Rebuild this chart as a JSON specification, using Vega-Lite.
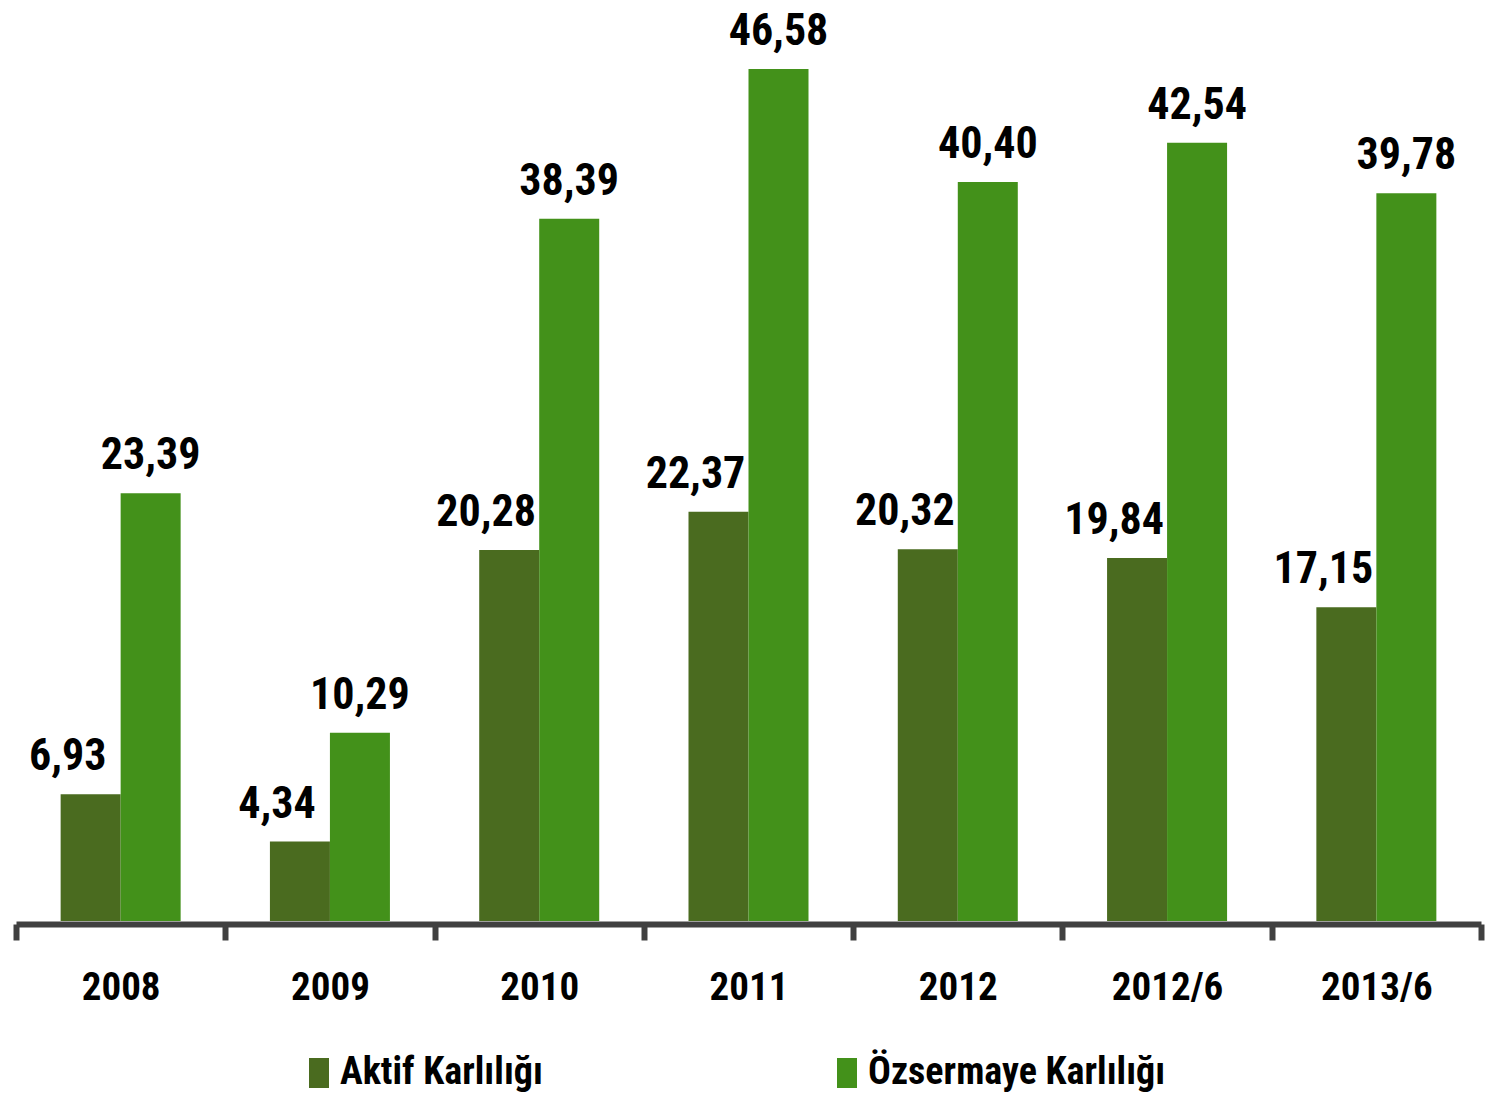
{
  "$schema": "https://vega.github.io/schema/vega-lite/v6.json",
  "autosize": {"type": "none"},
  "padding": {"left": 16, "top": 0, "right": 10, "bottom": 179},
  "width": 1465,
  "height": 921,
  "background": "white",
  "config": {"view": {"stroke": null}, "font": "Roboto Condensed", "locale": {"number": {"decimal": ",", "thousands": ".", "grouping": [3], "currency": ["", ""]}}},
  "data": {"values": [
    {"year": "2008", "series": "Aktif Karlılığı", "value": 6.93},
    {"year": "2008", "series": "Özsermaye Karlılığı", "value": 23.39},
    {"year": "2009", "series": "Aktif Karlılığı", "value": 4.34},
    {"year": "2009", "series": "Özsermaye Karlılığı", "value": 10.29},
    {"year": "2010", "series": "Aktif Karlılığı", "value": 20.28},
    {"year": "2010", "series": "Özsermaye Karlılığı", "value": 38.39},
    {"year": "2011", "series": "Aktif Karlılığı", "value": 22.37},
    {"year": "2011", "series": "Özsermaye Karlılığı", "value": 46.58},
    {"year": "2012", "series": "Aktif Karlılığı", "value": 20.32},
    {"year": "2012", "series": "Özsermaye Karlılığı", "value": 40.40},
    {"year": "2012/6", "series": "Aktif Karlılığı", "value": 19.84},
    {"year": "2012/6", "series": "Özsermaye Karlılığı", "value": 42.54},
    {"year": "2013/6", "series": "Aktif Karlılığı", "value": 17.15},
    {"year": "2013/6", "series": "Özsermaye Karlılığı", "value": 39.78}
  ]},
  "encoding": {
    "x": {
      "field": "year", "type": "nominal", "sort": null,
      "scale": {"paddingInner": 0, "paddingOuter": 0},
      "axis": {
        "title": null, "labelAngle": 0, "tickBand": "extent",
        "domainColor": "#404040", "domainWidth": 6,
        "tickColor": "#404040", "tickWidth": 6, "tickSize": 16,
        "offset": 3, "labelPadding": 28,
        "labelFont": "Roboto Condensed", "labelFontSize": 39, "labelFontWeight": "bold", "labelColor": "#000000"
      }
    },
    "xOffset": {
      "field": "series", "type": "nominal",
      "scale": {"paddingInner": 0, "paddingOuter": 0.744}
    },
    "y": {
      "field": "value", "type": "quantitative",
      "scale": {"domain": [0, 50.35], "nice": false, "zero": true},
      "axis": null
    }
  },
  "layer": [
    {
      "mark": {"type": "bar"},
      "encoding": {
        "color": {
          "field": "series", "type": "nominal",
          "scale": {"domain": ["Aktif Karlılığı", "Özsermaye Karlılığı"], "range": ["#4a6b1f", "#43911a"]},
          "legend": {
            "title": null, "orient": "none", "direction": "horizontal", "columns": 2,
            "legendX": 284, "legendY": 1054,
            "symbolType": "M-0.667,-1L0.667,-1L0.667,1L-0.667,1Z", "symbolSize": 900,
            "symbolStrokeWidth": 0, "labelOffset": 2, "columnPadding": 285,
            "labelFont": "Roboto Condensed", "labelFontSize": 38, "labelFontWeight": "bold", "labelColor": "#000000",
            "labelLimit": 0
          }
        }
      }
    },
    {
      "transform": [{"filter": "datum.series === 'Aktif Karlılığı'"}],
      "mark": {"type": "text", "baseline": "alphabetic", "dy": -24, "dx": -23, "fontSize": 44, "fontWeight": "bold", "font": "Roboto Condensed", "color": "#000000"},
      "encoding": {"text": {"field": "value", "type": "quantitative", "format": ".2f"}}
    },
    {
      "transform": [{"filter": "datum.series === 'Özsermaye Karlılığı'"}],
      "mark": {"type": "text", "baseline": "alphabetic", "dy": -24, "fontSize": 44, "fontWeight": "bold", "font": "Roboto Condensed", "color": "#000000"},
      "encoding": {"text": {"field": "value", "type": "quantitative", "format": ".2f"}}
    }
  ]
}
